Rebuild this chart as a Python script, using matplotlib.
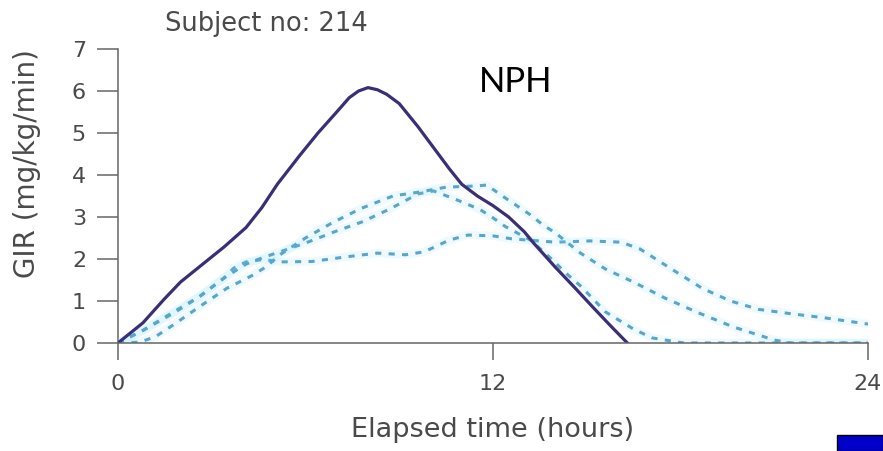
import matplotlib
matplotlib.use("Agg")
import matplotlib.pyplot as plt
from matplotlib.patches import Rectangle

# NPH glucose infusion rate, subject 214
# solid = individual profile, dashed = other clamp profiles
hrs_solid = [0, 0.8, 1.45, 2.0, 2.6, 3.4, 4.1, 4.6, 5.1, 5.8, 6.4, 7.0, 7.4, 7.7, 8.0,
             8.3, 8.6, 9.0, 9.6, 10.1, 10.6, 11.0, 11.5, 12.0, 12.5, 13.0, 13.3,
             14.0, 14.6, 15.2, 15.8, 16.3]
gir_solid = [0, 0.48, 1.02, 1.45, 1.81, 2.29, 2.75, 3.22, 3.78, 4.45, 5.0, 5.5, 5.84, 6.0, 6.08,
             6.03, 5.92, 5.7, 5.15, 4.65, 4.15, 3.78, 3.5, 3.27, 3.0, 2.65, 2.38,
             1.8, 1.33, 0.85, 0.38, 0]

hrs_a = [0, 0.7, 1.2, 1.77, 2.62, 3.48, 4.33, 4.75, 5.18, 6.0, 6.9, 7.8, 8.8, 9.7, 10.5,
         11.5, 11.8, 12.4, 13.2, 13.6, 14.0, 14.8, 15.6, 16.5, 17.5, 18.6, 19.7, 21.0, 21.5, 24]
gir_a = [0, 0.02, 0.15, 0.43, 0.87, 1.30, 1.62, 1.82, 2.1, 2.5, 2.88, 3.21, 3.5, 3.6, 3.71,
         3.74, 3.76, 3.45, 3.05, 2.81, 2.62, 2.14, 1.76, 1.45, 1.07, 0.71, 0.38, 0.07, 0, 0]

hrs_b = [0, 0.8, 1.8, 2.6, 3.4, 4.1, 4.7, 5.3, 6.0, 6.9, 7.8, 8.7, 9.6, 10.1, 10.7, 11.1,
         11.6, 12.0, 12.4, 13.2, 13.8, 14.4, 14.8, 15.6, 16.5, 17.1, 18.1, 24]
gir_b = [0, 0.3, 0.72, 1.1, 1.55, 1.88, 2.05, 2.2, 2.38, 2.64, 2.88, 3.19, 3.55, 3.62, 3.45, 3.33,
         3.17, 2.98, 2.77, 2.45, 2.05, 1.62, 1.36, 0.74, 0.33, 0.12, 0, 0]

hrs_c = [0, 0.8, 1.8, 2.6, 3.4, 3.7, 4.1, 4.65, 5.2, 6.2, 7.3, 8.3, 9.2, 9.8, 10.6, 11.2,
         12.0, 12.6, 14.0, 15.1, 16.1, 16.7, 17.8, 18.7, 19.6, 20.5, 21.5, 22.6, 24]
gir_c = [0, 0.3, 0.75, 1.1, 1.55, 1.78, 1.93, 1.99, 1.93, 1.94, 2.05, 2.14, 2.1, 2.17, 2.45, 2.57,
         2.55, 2.48, 2.4, 2.43, 2.4, 2.24, 1.72, 1.3, 1.0, 0.8, 0.7, 0.6, 0.45]

x_ticks = [0, 12, 24]
y_ticks = [0, 1, 2, 3, 4, 5, 6, 7]

grey = '#4a4a4a'
fig = plt.figure(figsize=(8.83, 4.51), dpi=100)
ax = fig.add_axes([0.1336, 0.2395, 0.8494, 0.6519])

dash_col = '#5aa5c8'
for h, g in [(hrs_c, gir_c), (hrs_b, gir_b), (hrs_a, gir_a)]:
    ax.plot(h, g, color='#7fdcff', lw=6, alpha=0.12, solid_capstyle='round')
    ax.plot(h, g, color=dash_col, lw=2.2, linestyle=(0, (2, 2.4)))
ax.plot(hrs_solid, gir_solid, color='#3a2f75', lw=2.3)

ax.set_xlim(0, 24)
ax.set_ylim(0, 7)
ax.set_xticks(x_ticks)
ax.set_yticks(y_ticks)
ax.tick_params(axis='x', direction='out', length=12, width=1.1, color='#666666',
               labelsize=16, labelcolor=grey, pad=10)
ax.tick_params(axis='y', direction='out', length=15, width=1.1, color='#666666',
               labelsize=16, labelcolor=grey, pad=8)
for side in ['top', 'right']:
    ax.spines[side].set_visible(False)
for side in ['left', 'bottom']:
    ax.spines[side].set_color('#666666')
    ax.spines[side].set_linewidth(1.1)
ax.spines['left'].set_zorder(0)

fig.text(266 / 883, 1 - 24 / 451, 'Subject no: 214', ha='center', va='center',
         fontsize=18.5, color=grey)
fig.text(493 / 883, 1 - 430 / 451, 'Elapsed time (hours)', ha='center', va='center',
         fontsize=19.5, color=grey)
fig.text(27 / 883, 1 - 164 / 451, 'GIR (mg/kg/min)', ha='center', va='center',
         rotation=90, fontsize=20, color=grey)
fig.text(516 / 883, 1 - 82 / 451, 'NPH', ha='center', va='center',
         fontsize=25, color='black', family='Lato')

# small blue marker box in the corner
fig.patches.append(Rectangle((837 / 883, 0), 46 / 883, 16 / 451, transform=fig.transFigure,
                             facecolor='#0000c8', edgecolor='black', lw=1))

fig.savefig('out.png', dpi=100)
